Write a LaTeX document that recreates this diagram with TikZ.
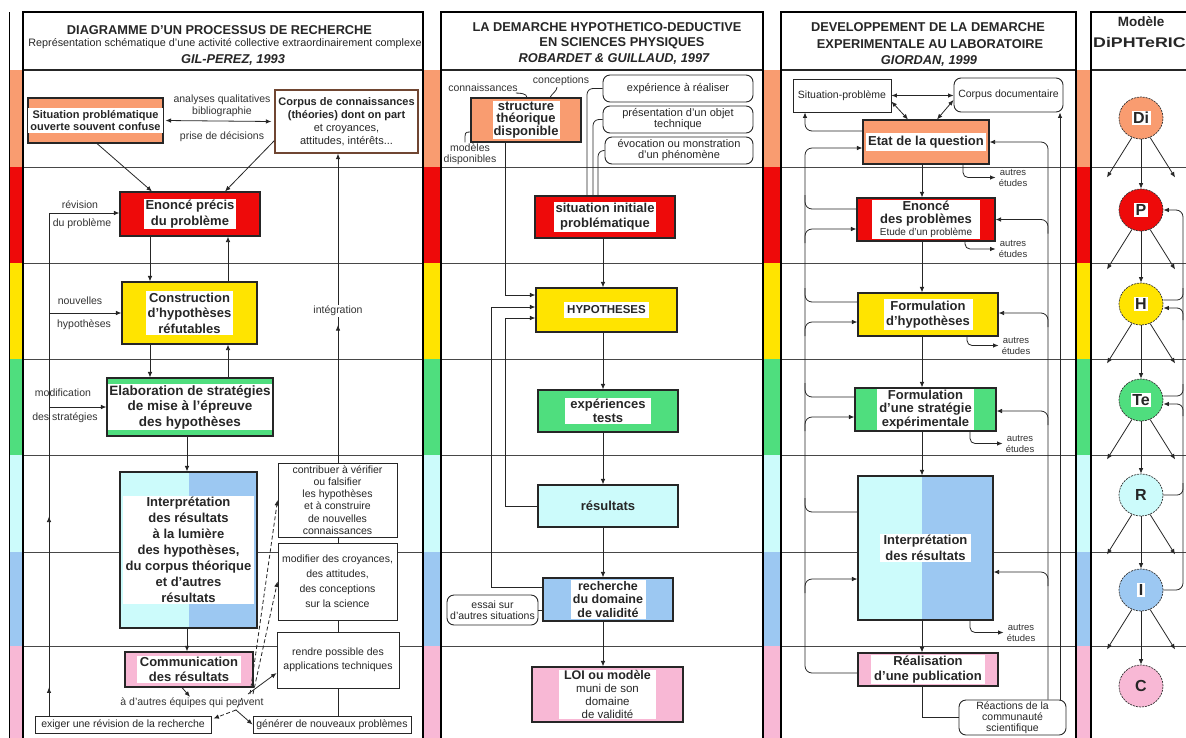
\documentclass[tikz,border=0pt]{standalone}
\usepackage{fontspec}
\usepackage{graphicx}
\setmainfont{Liberation Sans}
\usetikzlibrary{arrows.meta,shapes.geometric,calc,decorations.markings}
\definecolor{cor}{HTML}{F99C70}
\definecolor{cre}{HTML}{EE0A0A}
\definecolor{cye}{HTML}{FFE400}
\definecolor{cgr}{HTML}{4FDE7E}
\definecolor{clb}{HTML}{CCFBFB}
\definecolor{cbl}{HTML}{9CC8F2}
\definecolor{cpk}{HTML}{F8B8D5}
\newcommand\myBF{\fontsize{13}{15.5}\selectfont\bfseries}
\newcommand\mySF{\fontsize{10.5}{12}\selectfont}
\newcommand\cbx[6]{\node[cbox, fill=#2, minimum width=#5pt, minimum height=#6pt] (#1) at (#3,#4) {};}
\begin{document}
\begin{tikzpicture}[x=1pt,y=-1pt,
 frame/.style={draw=black, line width=1.4pt},
 hline/.style={draw=black!85, line width=1.1pt},
 bandline/.style={draw=black!72, line width=1pt},
 cbox/.style={draw=black!85, line width=1.1pt, inner sep=0pt},
 wt/.style={fill=white, inner sep=1.5pt, align=center, font=\myBF, text=black!85},
 wbox/.style={draw=black!85, line width=0.9pt, fill=white, inner sep=0pt, align=center, font=\mySF, text=black!85},
 rbox/.style={wbox, rounded corners=7pt, font=\fontsize{10.5}{11}\selectfont},
 lab/.style={inner sep=1pt, align=center, font=\mySF, text=black!80},
 tiny/.style={inner sep=1pt, align=center, font=\fontsize{9.5}{11}\selectfont, text=black!80},
 ttl/.style={inner sep=0pt, font=\fontsize{12.8}{14}\selectfont\bfseries, text=black!85},
 line/.style={draw=black!85, line width=0.8pt},
 arr/.style={line, -{Latex[length=5.5pt,width=4.5pt]}},
 darr/.style={line, {Latex[length=5.5pt,width=4.5pt]}-{Latex[length=5.5pt,width=4.5pt]}},
 dsh/.style={dash pattern=on 4pt off 2.5pt},
 circ/.style={ellipse, draw=black!80, dash pattern=on 2pt off 1pt, line width=0.7pt, minimum width=44pt, minimum height=42pt, inner sep=0pt, font=\fontsize{16}{16}\selectfont\bfseries, text=black!85},
]
\useasboundingbox (0,0) rectangle (1186,737);
\fill[white] (0,0) rectangle (1186,737);

% ---------- background: strips, band lines, frames
\foreach \ya/\yb/\cc in {70/167/cor,167/263/cre,263/359/cye,359/455/cgr,455/552/clb,552/646/cbl,646/745/cpk}
  \foreach \xa/\xb in {9/23,423/441,763/781,1076/1091}
    \fill[fill=\cc] (\xa,\ya) rectangle (\xb,\yb);
\foreach \y in {167,263,359,455,552,646}
  \foreach \xa/\xb in {23/423,441/763,781/1076,1091/1200}
    \draw[bandline] (\xa,\y) -- (\xb,\y);
\foreach \xa/\xb in {23/423,441/763,781/1076,1091/1200}{
  \draw[hline] (\xa,70) -- (\xb,70);
  \draw[frame] (\xa,745) -- (\xa,12) -- (\xb,12) -- (\xb,745);
}
\draw[line width=1pt] (9,12) -- (9,745);

% ================= COLUMN 1
\node[ttl] (t1a) at (219.5,30) {DIAGRAMME D'UN PROCESSUS DE RECHERCHE};
\node[ttl, font=\fontsize{10.8}{12}\selectfont] (t1b) at (225,44) {Représentation schématique d'une activité collective extraordinairement complexe};
\node[ttl, font=\fontsize{12.8}{14}\selectfont\bfseries\itshape] (t1c) at (233,60) {GIL-PEREZ, 1993};

\cbx{sit}{cor}{95.5}{120.5}{135}{45}
\node[wt, font=\fontsize{11}{12}\selectfont\bfseries, inner sep=2pt] (sit-t) at (sit) {Situation problématique\\ouverte souvent confuse};
\node[cbox, fill=white, draw=cor!45!black, line width=1.3pt, minimum width=143pt, minimum height=63pt] (corp) at (346.5,121.5) {};
\node[align=center, inner sep=0pt, font=\fontsize{11}{13}\selectfont, text=black!85] (corp-t) at (corp) {\textbf{Corpus de connaissances}\\\textbf{(théories) dont on part}\\et croyances,\\attitudes, intérêts...};
\node[lab] (aq) at (222,100) {analyses qualitatives};
\node[lab] (bib) at (222,112) {bibliographie};
\node[lab] (pd) at (222,137) {prise de décisions};

\cbx{enon}{cre}{190}{214}{140}{44}
\node[wt] (enon-t) at (enon) {Enoncé précis\\du problème};
\cbx{cons}{cye}{189.5}{313}{135}{62}
\node[wt] (cons-t) at (cons) {Construction\\d'hypothèses\\réfutables};
\cbx{elab}{cgr}{190}{407}{166}{58}
\node[wt, font=\fontsize{13.5}{15.5}\selectfont\bfseries] (elab-t) at (elab) {Elaboration de stratégies\\de mise à l'épreuve\\des hypothèses};

\fill[clb] (120,472) rectangle (188.5,628);
\fill[cbl] (188.5,472) rectangle (257,628);
\node[cbox, minimum width=137pt, minimum height=156pt] (int1) at (188.5,550) {};
\node[wt, font=\fontsize{13}{16}\selectfont\bfseries, minimum width=131pt] (int1-t) at (int1) {Interprétation\\des résultats\\à la lumière\\des hypothèses,\\du corpus théorique\\et d'autres\\résultats};
\cbx{comm}{cpk}{189}{669.5}{128}{35}
\node[wt, font=\fontsize{13}{15}\selectfont\bfseries, inner sep=1pt, minimum width=104pt] (comm-t) at (comm) {Communication\\des résultats};
\node[lab] (adt) at (192,703) {à d'autres équipes qui peuvent};

\node[wbox, minimum width=119pt, minimum height=74pt, font=\fontsize{10.5}{12.3}\selectfont] (contr) at (337.5,500) {contribuer à vérifier\\ou falsifier\\les hypothèses\\et à construire\\de nouvelles\\connaissances};
\node[wbox, minimum width=119pt, minimum height=77pt, font=\fontsize{10.5}{15}\selectfont] (modif) at (337.5,581.5) {modifier des croyances,\\des attitudes,\\des conceptions\\sur la science};
\node[wbox, minimum width=122pt, minimum height=56pt, font=\fontsize{10.5}{14}\selectfont] (rend) at (338,660) {rendre possible des\\applications techniques};
\node[wbox, minimum width=176pt, minimum height=17pt] (exig) at (123,724.5) {exiger une révision de la recherche};
\node[wbox, minimum width=158pt, minimum height=17pt] (genr) at (332,724.5) {générer de nouveaux problèmes};

% connectors column 1
\draw[darr] ([xshift=2pt]sit.east) -- ([xshift=-3pt]corp.west);
\draw[arr] ([xshift=1.5pt]sit.south) -- ([xshift=-38pt]enon.north);
\draw[arr] ([yshift=13pt]corp.south west) -- ([xshift=35pt]enon.north);
\draw[arr] ([xshift=-40pt]enon.south) -- ([xshift=-39.5pt]cons.north);
\draw[arr] ([xshift=38.5pt]cons.north) -- ([xshift=38pt]enon.south);
\draw[arr] ([xshift=-39.5pt]cons.south) -- ([xshift=-40pt]elab.north);
\draw[arr] ([xshift=38pt]elab.north) -- ([xshift=38.5pt]cons.south);
\draw[arr] ([xshift=-3pt]elab.south) -- ([xshift=-1.5pt]int1.north);
\draw[arr] ([xshift=-1.5pt]int1.south) -- ([xshift=-2pt]comm.north);
\draw[arr] ([xshift=-7pt]comm.south) -- ([xshift=-2pt]adt.north);
\coordinate (fan) at (250,694);
\coordinate (fan2) at (236,710);
\draw[arr, dsh] (fan) -- (contr.west);
\draw[arr, dsh] ([xshift=3pt]fan) -- (modif.west);
\draw[arr] ([xshift=-2pt]fan) -- ([yshift=-13pt]rend.west);
\draw[line, dsh] ([xshift=-8pt,yshift=-4pt]fan) -- (fan2);
\draw[arr, dsh] (fan2) -- ([xshift=2pt,yshift=-3pt]exig.north east);
\draw[arr] (fan2) -- (genr.west);
% integration spine
\coordinate (sp) at (338,0);
\draw[line] (genr.north -| sp) -- (rend.south -| sp);
\draw[line] (rend.north -| sp) -- (modif.south -| sp);
\draw[line] (modif.north -| sp) -- (contr.south -| sp);
\draw[arr, postaction={decorate}, decoration={markings, mark=at position 0.445 with {\arrow{Latex[length=5.5pt,width=4.5pt]}}}] (contr.north -| sp) -- (corp.south -| sp);
\node[lab, fill=white] (integ) at (338,311) {intégration};
% left feedback line
\coordinate (fb) at (49,213);
\draw[line, postaction={decorate}, decoration={markings, mark=at position 0.056 with {\arrow{Latex[length=5.5pt,width=4.5pt]}}, mark=at position 0.396 with {\arrow{Latex[length=5.5pt,width=4.5pt]}}}] (exig.north -| fb) -- (fb);
\draw[arr] (fb) -- (fb -| enon.west);
\draw[arr] (fb |- cons.west) -- (cons.west);
\draw[arr] (fb |- elab.west) -- (elab.west);
\node[lab] (l1) at (80,205) {révision};
\node[lab] (l2) at (82,224) {du problème};
\node[lab] (l3) at (80,301) {nouvelles};
\node[lab] (l4) at (84,325) {hypothèses};
\node[lab] (l5) at (63,393) {modification};
\node[lab] (l6) at (65,418) {des stratégies};

% ================= COLUMN 2
\node[ttl] (t2a) at (607,27) {LA DEMARCHE HYPOTHETICO-DEDUCTIVE};
\node[ttl] (t2b) at (622,43) {EN SCIENCES PHYSIQUES};
\node[ttl, font=\fontsize{12.8}{14}\selectfont\bfseries\itshape] (t2c) at (614,59) {ROBARDET \& GUILLAUD, 1997};

\cbx{struct}{cor}{526}{120}{110}{44}
\node[wt, font=\fontsize{13}{12.5}\selectfont\bfseries, inner sep=1pt] (struct-t) at (struct) {structure\\théorique\\disponible};
\node[lab] (conn) at (483,88) {connaissances};
\node[lab] (conc) at (561,81) {conceptions};
\node[lab, font=\fontsize{10.5}{11}\selectfont] (modd) at (470,154) {modèles\\disponibles};
\draw[line] ([xshift=-3pt]conn.south east) .. controls +(4,0) and +(0,-4) .. ([xshift=1pt]struct.north);
\draw[line] ([xshift=-4pt]conc.south) .. controls +(0,4) and +(2,-4) .. ([xshift=24pt]struct.north);
\draw[line] ([xshift=-5pt]modd.north) .. controls +(0,-10) and +(-6,0) .. ([yshift=-12pt]struct.west);

\node[rbox, minimum width=150pt, minimum height=27pt, font=\fontsize{11}{11}\selectfont] (rb1) at (678,88.5) {expérience à réaliser};
\node[rbox, minimum width=150pt, minimum height=27pt, font=\fontsize{11}{11}\selectfont] (rb2) at (678,119.5) {présentation d'un objet\\technique};
\node[rbox, minimum width=148pt, minimum height=27pt, font=\fontsize{11}{11}\selectfont] (rb3) at (679,150.5) {évocation ou monstration\\d'un phénomène};

\cbx{sit2}{cre}{605}{217}{140}{42}
\node[wt, font=\fontsize{13}{15}\selectfont\bfseries] (sit2-t) at (sit2) {situation initiale\\problématique};
\cbx{hyp}{cye}{606.5}{310}{141}{44}
\node[wt, font=\fontsize{11.5}{13}\selectfont\bfseries, inner sep=3.5pt] (hyp-t) at (hyp) {HYPOTHESES};
\cbx{exp}{cgr}{608}{411}{140}{42}
\node[wt, font=\fontsize{13}{14.5}\selectfont\bfseries, inner xsep=5pt, inner ysep=1pt] (exp-t) at (exp) {expériences\\tests};
\node[cbox, fill=clb, minimum width=140pt, minimum height=42pt, font=\myBF, text=black!85] (res) at (608,506) {résultats};
\cbx{rech}{cbl}{608}{599.5}{130}{43}
\node[wt, font=\fontsize{12.5}{13.5}\selectfont\bfseries, inner sep=1pt, minimum width=75pt] (rech-t) at (rech) {recherche\\du domaine\\de validité};
\cbx{loi}{cpk}{607.5}{694.5}{151}{55}
\node[wt, font=\fontsize{11.5}{12.8}\selectfont, inner sep=1pt, minimum width=97pt] (loi-t) at (loi) {{\fontsize{12.5}{12.8}\selectfont\bfseries LOI ou modèle}\\muni de son\\domaine\\de validité};
\node[rbox, minimum width=91pt, minimum height=30pt] (ess) at (492.5,610) {essai sur\\d'autres situations};

% connectors column 2
\coordinate (c2) at (603,0);
\draw[line, rounded corners=6pt] (rb1.west) -| ([xshift=-18pt]sit2.north);
\draw[line, rounded corners=6pt] (rb2.west) -| ([xshift=-12pt]sit2.north);
\draw[line, rounded corners=6pt] (rb3.west) -| ([xshift=-7pt]sit2.north);
\draw[arr] ([xshift=-21pt]struct.south) |- ([yshift=15pt]hyp.west);
\draw[arr] (sit2.south -| c2) -- (hyp.north -| c2);
\draw[arr] (hyp.south -| c2) -- (exp.north -| c2);
\draw[arr] (exp.south -| c2) -- (res.north -| c2);
\draw[arr] (res.south -| c2) -- (rech.north -| c2);
\draw[arr] (rech.south -| c2) -- (loi.north -| c2);
\draw[arr] (res.west) -- ++(-32,0) |- ([yshift=-8pt]hyp.west);
\draw[arr] ([yshift=12pt]rech.west) -- ++(-51,0) |- ([yshift=3pt]hyp.west);
\draw[line] (ess.east) -- (ess.east -| rech.west);

% ================= COLUMN 3
\node[ttl] (t3a) at (928,27) {DEVELOPPEMENT DE LA DEMARCHE};
\node[ttl] (t3b) at (930,44) {EXPERIMENTALE AU LABORATOIRE};
\node[ttl, font=\fontsize{12.8}{14}\selectfont\bfseries\itshape] (t3c) at (929,61) {GIORDAN, 1999};

\node[wbox, minimum width=98pt, minimum height=33pt] (sp3) at (842,95.5) {Situation-problème};
\node[rbox, minimum width=109pt, minimum height=34pt, font=\mySF] (cd) at (1008.5,95) {Corpus documentaire};
\cbx{etat}{cor}{926}{142}{126}{44}
\node[wt, inner xsep=2pt, inner ysep=3pt] (etat-t) at (etat) {Etat de la question};
\cbx{en3}{cre}{926}{219.5}{138}{43}
\node[wt, inner sep=1pt, minimum width=108pt, font=\fontsize{13}{13.5}\selectfont\bfseries] (en3-t) at (en3) {Enoncé\\des problèmes\\[-1.5pt]{\fontsize{10}{10}\selectfont\mdseries Etude d'un problème}};
\cbx{fh}{cye}{928}{314.5}{140}{43}
\node[wt, font=\fontsize{13}{15}\selectfont\bfseries, minimum width=89pt] (fh-t) at (fh) {Formulation\\d'hypothèses};
\cbx{fs}{cgr}{925.5}{409.5}{141}{43}
\node[wt, inner sep=1pt, font=\fontsize{13}{13.5}\selectfont\bfseries, minimum width=97pt] (fs-t) at (fs) {Formulation\\d'une stratégie\\expérimentale};
\fill[clb] (858,476) rectangle (922,620);
\fill[cbl] (922,476) rectangle (993,620);
\node[cbox, minimum width=135pt, minimum height=144pt] (int3) at (925.5,548) {};
\node[wt, font=\fontsize{13}{16}\selectfont\bfseries, inner xsep=4pt] (int3-t) at (int3) {Interprétation\\des résultats};
\cbx{real}{cpk}{928}{669.5}{140}{33}
\node[wt, font=\fontsize{13}{15}\selectfont\bfseries, inner sep=1pt, minimum width=114pt] (real-t) at (real) {Réalisation\\d'une publication};
\node[rbox, minimum width=107pt, minimum height=35pt] (reac) at (1012.5,717.5) {Réactions de la\\communauté\\scientifique};

% connectors column 3
\draw[darr] (sp3.east) -- (sp3.east -| cd.west);
\draw[darr] ([yshift=-6pt]sp3.east) -- ([xshift=-18pt]etat.north);
\draw[darr] ([yshift=-5pt]cd.west) -- ([xshift=11pt]etat.north);
\coordinate (c3) at (922,0);
\draw[arr] (etat.south -| c3) -- (en3.north -| c3);
\draw[arr] (en3.south -| c3) -- (fh.north -| c3);
\draw[arr] (fh.south -| c3) -- (fs.north -| c3);
\draw[arr] (fs.south -| c3) -- (int3.north -| c3);
\draw[arr] (int3.south -| c3) -- (real.north -| c3);
\draw[line] (real.south -| c3) |- (reac.west);
% left bus
\coordinate (b3) at (805,0);
\draw[arr, rounded corners=7pt] ([yshift=11pt]etat.west) -| (sp3.south -| b3);
\coordinate (rl) at ([yshift=-3.5pt]real.west);
\coordinate (etin) at ([yshift=-6pt]etat.west);
\draw[arr, rounded corners=7pt] (rl) -- (rl -| b3) -- (etin -| b3) -- (etin);
\foreach \n/\s in {en3/10.5, fh/12.5, fs/12.5, int3/36}{
  \coordinate (o) at ([yshift=\s pt]\n.west);
  \draw[line, rounded corners=7pt] (o) -- (o -| b3) -- ++(0,-14);
}
\foreach \n/\s in {en3/-9.5, fh/-7.5, fs/-7.5, int3/-31}{
  \coordinate (i) at ([yshift=\s pt]\n.west);
  \draw[arr, rounded corners=7pt] ($(i -| b3)+(0,14)$) -- (i -| b3) -- (i);
}
% right bus
\coordinate (r1) at (1048,0);
\coordinate (r2) at (1060,0);
\draw[arr] (reac.north -| r2) -- (cd.south -| r2);
\draw[arr, rounded corners=7pt] (reac.north -| r1) -- (etat.east -| r1) -- (etat.east);
\foreach \n/\s in {en3/0, fh/1.5, fs/-1.5, int3/-24}{
  \coordinate (j) at ([yshift=\s pt]\n.east);
  \draw[arr, rounded corners=7pt] ($(j -| r1)+(0,14)$) -- (j -| r1) -- (j);
}
% autres etudes
\node[tiny] (ae1) at (1013,177.5) {autres\\études};
\node[tiny] (ae2) at (1013,249) {autres\\études};
\node[tiny] (ae3) at (1016,345.5) {autres\\études};
\node[tiny] (ae4) at (1020,443.5) {autres\\études};
\node[tiny] (ae5) at (1021,632.5) {autres\\études};
\draw[arr, rounded corners=5pt, shorten >=2pt] ([xshift=37pt]etat.south) |- (ae1.west);
\draw[arr, rounded corners=5pt, shorten >=2pt] ([xshift=39pt]en3.south) |- (ae2.west);
\draw[arr, rounded corners=5pt, shorten >=2pt] ([xshift=39pt]fh.south) |- (ae3.west);
\draw[arr, rounded corners=5pt, shorten >=2pt] ([xshift=44.5pt]fs.south) |- (ae4.west);
\draw[arr, rounded corners=5pt, shorten >=2pt] ([xshift=44.5pt]int3.south) |- (ae5.west);

% ================= COLUMN 4
\node[ttl, font=\fontsize{13.5}{15}\selectfont\bfseries] (t4a) at (1141,22) {Modèle};
\node[ttl, anchor=west, font=\fontsize{14}{15}\selectfont\bfseries] (t4b) at (1093,42) {\scalebox{1.27}[1]{DiPHTeRIC}};
\setlength\fboxsep{1.5pt}
\node[circ, fill=cor] (mDi) at (1141,118) {\colorbox{white}{Di}};
\node[circ, fill=cre] (mP) at (1141,210) {\colorbox{white}{P}};
\node[circ, fill=cye] (mH) at (1141,304) {\colorbox{white}{H}};
\node[circ, fill=cgr] (mTe) at (1141,400) {\colorbox{white}{Te}};
\node[circ, fill=clb] (mR) at (1141,495) {R};
\node[circ, fill=cbl] (mI) at (1141,590) {\colorbox{white}{I}};
\node[circ, fill=cpk] (mC) at (1141,686) {C};
\foreach \a/\b in {mDi/mP, mP/mH, mH/mTe, mTe/mR, mR/mI, mI/mC}{
  \draw[arr] (\a.south) -- (\b.north);
  \draw[arr] (\a.-115) -- ++(-25,40);
  \draw[arr] (\a.-65) -- ++(25,40);
}
\coordinate (b4) at (1183,0);
\draw[arr, rounded corners=7pt] (mI.east) -- (mI.east -| b4) -- (mP.east -| b4) -- (mP.east);
\foreach \n in {mH, mTe}{
  \coordinate (o) at ([yshift=4pt]\n.east);
  \coordinate (i) at ([yshift=-4pt]\n.east);
  \draw[line, rounded corners=6pt] (o) -- (o -| b4) -- ++(0,-12);
  \draw[arr, rounded corners=6pt] ($(i -| b4)+(0,12)$) -- (i -| b4) -- (i);
}
\draw[line, rounded corners=6pt] (mR.east) -- (mR.east -| b4) -- ++(0,-12);
\end{tikzpicture}
\end{document}
